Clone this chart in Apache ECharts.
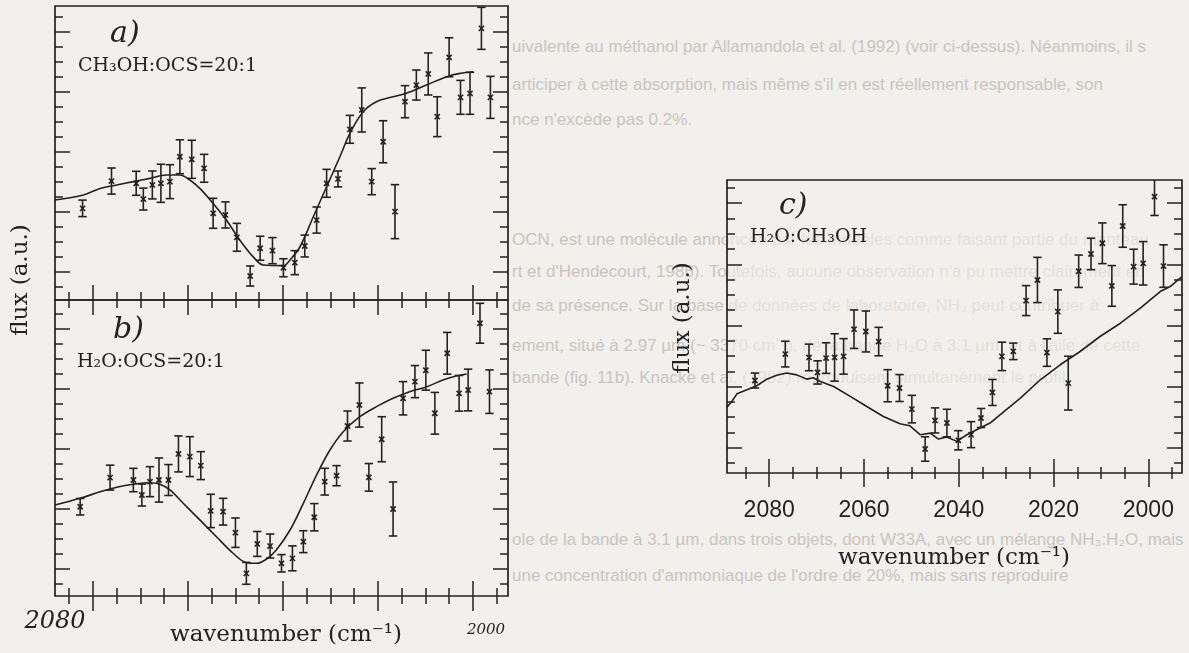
<!DOCTYPE html>
<html>
<head>
<meta charset="utf-8">
<script src="https://cdn.jsdelivr.net/npm/echarts@6/dist/echarts.min.js"></script>
<style>
  html, body { margin: 0; padding: 0; background: #f2f0ed; }
  #page { position: relative; width: 1189px; height: 653px; overflow: hidden; }
  #prose { position: absolute; left: 0; top: 0; width: 1189px; height: 653px; overflow: hidden; z-index: 0; }
  #prose div { position: absolute; left: 512px; white-space: nowrap; height: 20px; line-height: 20px;
               font: 17px "Liberation Sans", Arial, sans-serif; color: #c8c5c0; }
  #veil { position: absolute; left: 728px; top: 181px; width: 453px; height: 291px;
          background: rgba(242, 240, 237, 0.62); z-index: 1; }
  #chart { position: absolute; left: 0; top: 0; width: 1189px; height: 653px; z-index: 2; }
</style>
</head>
<body>
<div id="page">
  <div id="prose"></div>
  <div id="veil"></div>
  <div id="chart"></div>
</div>
<script>
// ---- observed spectrum with error bars, and model fits (flux in arbitrary units) ----
// panel a) CH3OH:OCS = 20:1
const aObsWn   = [2082.2, 2076.1, 2070.9, 2069.4, 2067.5, 2065.7, 2063.8, 2061.7, 2059.2, 2056.6, 2054.7, 2052.1, 2049.7, 2046.9, 2044.8, 2042.2, 2039.9, 2037.5, 2035.4, 2032.9, 2030.8, 2028.4, 2025.9, 2023.4, 2021.3, 2018.9, 2016.4, 2014.3, 2011.9, 2009.4, 2007.5, 2005.0, 2002.6, 2000.6, 1998.2, 1996.3];
const aObsFlux = [6.11, 7.93, 7.78, 6.73, 7.67, 7.78, 7.89, 9.55, 9.38, 8.78, 5.78, 5.67, 4.18, 1.60, 3.45, 3.29, 2.15, 2.49, 3.60, 5.33, 7.78, 8.07, 11.38, 12.67, 7.89, 10.55, 5.89, 13.22, 14.33, 15.07, 12.22, 16.18, 13.51, 13.78, 18.11, 13.51];
const aObsErr  = [0.55, 0.87, 0.80, 0.73, 0.93, 1.27, 1.13, 1.13, 1.27, 0.93, 1.00, 0.87, 0.93, 0.67, 0.80, 0.87, 0.60, 0.80, 0.73, 0.87, 0.93, 0.53, 0.93, 1.47, 0.87, 1.40, 1.80, 1.07, 1.00, 1.40, 1.33, 1.30, 1.13, 1.40, 1.40, 1.40];
const aFitWn   = [2088.0, 2082.0, 2078.5, 2075.0, 2071.5, 2068.0, 2064.5, 2061.7, 2059.6, 2057.5, 2054.7, 2051.9, 2049.1, 2046.3, 2044.1, 2039.9, 2038.5, 2036.4, 2033.6, 2030.8, 2028.0, 2025.9, 2023.1, 2020.3, 2016.8, 2014.0, 2009.8, 2005.5, 2002.7, 1999.9];
const aFitFlux = [6.67, 7.00, 7.44, 7.67, 7.89, 8.11, 8.33, 8.33, 8.00, 7.44, 6.44, 5.33, 4.00, 2.89, 2.33, 2.29, 2.67, 3.55, 5.55, 7.55, 9.55, 11.11, 12.55, 13.22, 13.55, 13.78, 14.33, 14.89, 15.11, 15.22];

// panel b) H2O:OCS = 20:1
const bObsWn   = [2082.7, 2076.4, 2071.5, 2069.7, 2068.0, 2066.1, 2064.1, 2062.0, 2059.6, 2057.3, 2055.2, 2052.6, 2050.0, 2047.7, 2045.4, 2042.7, 2040.3, 2038.0, 2035.7, 2033.4, 2031.2, 2028.7, 2026.4, 2023.9, 2021.9, 2019.2, 2016.8, 2014.7, 2012.2, 2009.9, 2008.0, 2005.4, 2002.9, 2001.0, 1998.5, 1996.5];
const bObsFlux = [5.95, 7.89, 7.73, 6.73, 7.62, 7.73, 7.73, 9.47, 9.29, 8.69, 5.67, 5.62, 4.22, 1.51, 3.47, 3.33, 2.18, 2.51, 3.62, 5.25, 7.62, 8.02, 11.33, 12.73, 7.91, 10.45, 5.80, 13.18, 14.29, 15.05, 12.18, 16.18, 13.51, 13.73, 18.18, 13.62];
const bObsErr  = [0.55, 0.83, 0.78, 0.73, 1.00, 1.47, 1.03, 1.20, 1.33, 0.93, 1.11, 0.89, 0.98, 0.73, 0.83, 0.80, 0.58, 0.83, 0.73, 0.91, 0.89, 0.67, 1.00, 1.47, 0.92, 1.50, 1.80, 1.11, 1.07, 1.33, 1.39, 1.39, 1.19, 1.39, 1.33, 1.45];
const bFitWn   = [2088.0, 2082.7, 2078.5, 2075.0, 2071.5, 2068.0, 2065.9, 2063.8, 2061.0, 2057.5, 2054.0, 2050.5, 2047.7, 2045.6, 2043.5, 2041.4, 2038.5, 2035.7, 2032.9, 2030.1, 2027.3, 2023.8, 2020.3, 2016.8, 2013.3, 2009.7, 2006.3, 2004.1, 2001.3];
const bFitFlux = [6.07, 6.51, 6.95, 7.25, 7.45, 7.55, 7.45, 7.07, 6.18, 5.07, 3.95, 2.85, 2.22, 2.18, 2.45, 3.07, 4.40, 6.18, 8.07, 9.73, 10.95, 11.95, 12.62, 13.18, 13.62, 13.95, 14.40, 14.62, 14.80];

// panel c) H2O:CH3OH
const cObsWn   = [2083.0, 2076.6, 2071.6, 2069.8, 2068.0, 2066.2, 2064.3, 2062.1, 2059.6, 2056.9, 2055.0, 2052.5, 2049.9, 2047.1, 2045.0, 2042.5, 2040.1, 2037.4, 2035.3, 2032.9, 2030.9, 2028.5, 2025.8, 2023.4, 2021.4, 2019.1, 2016.9, 2014.7, 2012.1, 2009.7, 2007.7, 2005.4, 2003.1, 2001.1, 1998.7, 1996.8];
const cObsFlux = [6.05, 7.78, 7.56, 6.58, 7.52, 7.56, 7.63, 9.41, 9.26, 8.60, 5.71, 5.56, 4.18, 1.57, 3.44, 3.27, 2.14, 2.51, 3.60, 5.27, 7.63, 7.96, 11.28, 12.63, 7.88, 10.56, 5.88, 13.20, 14.33, 15.03, 12.24, 16.16, 13.50, 13.72, 18.08, 13.54];
const cObsErr  = [0.49, 0.84, 0.87, 0.76, 1.00, 1.55, 1.16, 1.26, 1.34, 0.93, 1.05, 0.88, 0.90, 0.80, 0.82, 0.90, 0.63, 0.85, 0.62, 0.85, 0.93, 0.54, 0.98, 1.48, 0.90, 1.42, 1.76, 1.06, 1.03, 1.33, 1.33, 1.39, 1.14, 1.42, 1.23, 1.39];
const cFitWn   = [2088.9, 2087.9, 2086.8, 2084.7, 2082.6, 2080.5, 2078.4, 2076.3, 2074.2, 2072.0, 2070.7, 2069.2, 2066.4, 2062.9, 2059.4, 2055.9, 2052.4, 2050.3, 2048.1, 2046.0, 2044.3, 2042.5, 2040.4, 2038.3, 2035.5, 2033.4, 2031.3, 2027.0, 2022.8, 2018.6, 2014.4, 2010.2, 2005.9, 2001.7, 1997.5, 1995.4, 1992.9];
const cFitFlux = [4.31, 4.68, 5.18, 5.44, 5.71, 6.14, 6.40, 6.54, 6.42, 6.14, 6.23, 5.99, 5.66, 5.01, 4.35, 3.70, 3.22, 3.09, 2.50, 2.61, 2.22, 2.35, 2.07, 2.50, 2.94, 3.27, 3.81, 4.90, 6.10, 7.08, 7.95, 8.93, 9.80, 10.78, 11.87, 12.20, 12.85];

// ---- tick positions ----
const wnMajorTicks = [2080, 2060, 2040, 2020, 2000];
const wnMinorTicks = [2085, 2075, 2070, 2065, 2055, 2050, 2045, 2035, 2030, 2025, 2015, 2010, 2005, 1995];
const wnTickLabels = ['2080', '2060', '2040', '2020', '2000'];
const fluxMajorA = [1.87, 5.87, 9.87, 13.87, 17.87];
const fluxMajorB = [1.8, 5.8, 9.8, 13.8, 17.8];
const fluxMajorC = [1.65, 5.65, 9.65, 13.65, 17.65];

// axis extents
const wnExtentAB = [1992.6, 2088.0];
const wnExtentC  = [1992.9, 2088.9];
const fluxMaxA = 19.6, fluxMaxB = 19.73, fluxMaxC = 19.17;

// page text running behind the figure: [line, vertical centre]
const pageLines = [
  ['uivalente au méthanol par Allamandola et al. (1992) (voir ci-dessus). Néanmoins, il s', 47],
  ['articiper à cette absorption, mais même s\'il en est réellement responsable, son', 85],
  ['nce n\'excède pas 0.2%.', 120],
  ['OCN, est une molécule annoncée par les modèles comme faisant partie du manteau', 240],
  ['rt et d\'Hendecourt, 1986). Toutefois, aucune observation n\'a pu mettre clairement en', 272],
  ['de sa présence. Sur la base de données de laboratoire, NH₃ peut contribuer à', 306],
  ['ement, situé à 2.97 µm (~ 3370 cm⁻¹), de la bande H₂O à 3.1 µm, et à l\'aile de cette', 343],
  ['bande (fig. 11b). Knacke et al. (1982) reproduisent simultanément le profil', 378],
  ['ole de la bande à 3.1 µm, dans trois objets, dont W33A, avec un mélange NH₃:H₂O, mais', 540],
  ['une concentration d\'ammoniaque de l\'ordre de 20%, mais sans reproduire', 576]
];

const INK = '#222222';
const SERIF = '"DejaVu Serif", "Liberation Serif", serif';

const prose = document.getElementById('prose');
pageLines.forEach(([t, y]) => {
  const d = document.createElement('div');
  d.textContent = t;
  d.style.top = (y - 10) + 'px';
  prose.appendChild(d);
});

// minor flux ticks: one unit apart, skipping the major ones
function minorsOf(majors, max) {
  const out = [];
  for (let v = majors[0] - 1; v <= max + 1e-9; v += 1) {
    const r = +v.toFixed(3);
    if (r < 0) continue;
    if (!majors.some(m => Math.abs(m - r) < 1e-6)) out.push(r);
  }
  return out;
}

function tickAxis(grid, position, values, length, inside, extent, inverse, extra) {
  return Object.assign({
    type: 'value', gridIndex: grid, position: position,
    min: extent[0], max: extent[1], inverse: inverse,
    axisLine: { show: false }, splitLine: { show: false },
    axisLabel: { show: false }, axisPointer: { show: false },
    axisTick: { show: true, inside: inside, length: length, customValues: values,
                lineStyle: { color: INK, width: 1.5 } }
  }, extra || {});
}

const xAxes = [
  // panel a
  tickAxis(0, 'bottom', wnMajorTicks, 15, true, wnExtentAB, true),
  tickAxis(0, 'bottom', wnMinorTicks, 8, true, wnExtentAB, true),
  tickAxis(0, 'top', wnMajorTicks, 14, true, wnExtentAB, true),
  tickAxis(0, 'top', wnMinorTicks, 7, true, wnExtentAB, true),
  // panel b
  tickAxis(1, 'bottom', wnMajorTicks, 15, true, wnExtentAB, true),
  tickAxis(1, 'bottom', wnMinorTicks, 8, true, wnExtentAB, true),
  tickAxis(1, 'bottom', wnMajorTicks, 15, false, wnExtentAB, true),
  tickAxis(1, 'bottom', wnMinorTicks, 8, false, wnExtentAB, true),
  tickAxis(1, 'top', wnMajorTicks, 15, true, wnExtentAB, true),
  tickAxis(1, 'top', wnMinorTicks, 8, true, wnExtentAB, true),
  // panel c
  tickAxis(2, 'bottom', wnMajorTicks, 14, true, wnExtentC, true, {
    axisLabel: { show: true, customValues: wnMajorTicks, margin: 26,
      formatter: v => wnTickLabels[wnMajorTicks.indexOf(v)] || '',
      fontFamily: '"Liberation Sans", Arial, sans-serif', fontSize: 23, color: INK }
  }),
  tickAxis(2, 'bottom', wnMinorTicks, 6, true, wnExtentC, true),
  tickAxis(2, 'top', wnMajorTicks, 14, true, wnExtentC, true),
  tickAxis(2, 'top', wnMinorTicks, 6, true, wnExtentC, true)
];

function fluxAxes(grid, majors, max) {
  const minors = minorsOf(majors, max);
  const ext = [0, max];
  return [
    tickAxis(grid, 'left', majors, 15, true, ext, false),
    tickAxis(grid, 'left', minors, 8, true, ext, false),
    tickAxis(grid, 'right', majors, 15, true, ext, false),
    tickAxis(grid, 'right', minors, 8, true, ext, false)
  ];
}
const yAxes = [].concat(
  fluxAxes(0, fluxMajorA, fluxMaxA),
  fluxAxes(1, fluxMajorB, fluxMaxB),
  fluxAxes(2, fluxMajorC, fluxMaxC)
);

function zip(xs, ys) { return xs.map((x, i) => [x, ys[i]]); }

function errorBars(xi, yi, wn, flux, err) {
  return {
    type: 'custom', xAxisIndex: xi, yAxisIndex: yi, clip: true, silent: true, z: 3,
    data: wn.map((w, i) => [w, flux[i], err[i]]),
    encode: { x: 0, y: 1 },
    renderItem: function (params, api) {
      const w = api.value(0), f = api.value(1), e = api.value(2);
      const c = api.coord([w, f]);
      const hi = api.coord([w, f + e]);
      const lo = api.coord([w, f - e]);
      const cap = 4.2, m = 2.6;
      const st = { stroke: INK, lineWidth: 1.6 };
      return {
        type: 'group',
        children: [
          { type: 'line', shape: { x1: c[0], y1: hi[1], x2: c[0], y2: lo[1] }, style: st },
          { type: 'line', shape: { x1: c[0] - cap, y1: hi[1], x2: c[0] + cap, y2: hi[1] }, style: st },
          { type: 'line', shape: { x1: c[0] - cap, y1: lo[1], x2: c[0] + cap, y2: lo[1] }, style: st },
          { type: 'line', shape: { x1: c[0] - m, y1: c[1] - m, x2: c[0] + m, y2: c[1] + m }, style: st },
          { type: 'line', shape: { x1: c[0] - m, y1: c[1] + m, x2: c[0] + m, y2: c[1] - m }, style: st }
        ]
      };
    }
  };
}

function fitLine(xi, yi, wn, flux, smooth) {
  return {
    type: 'line', xAxisIndex: xi, yAxisIndex: yi, data: zip(wn, flux),
    showSymbol: false, symbol: 'none', smooth: smooth, silent: true, clip: true, z: 2,
    lineStyle: { color: INK, width: 1.6 }
  };
}

function label(text, x, y, font, opts) {
  return Object.assign({
    type: 'text', x: x, y: y, z: 10, silent: true,
    style: Object.assign({ text: text, font: font, fill: INK,
      textAlign: 'left', textVerticalAlign: 'middle', align: 'left', verticalAlign: 'middle' }, (opts && opts.style) || {})
  }, (opts && opts.el) || {});
}
const centered = { textAlign: 'center', align: 'center' };

const graphics = [
  label('a)', 110, 34, 'italic 30px ' + SERIF),
  label('CH₃OH:OCS=20:1', 78, 66, '19px ' + SERIF),
  label('b)', 113, 330, 'italic 30px ' + SERIF),
  label('H₂O:OCS=20:1', 77, 362, '19px ' + SERIF),
  label('c)', 779, 206, 'italic 30px ' + SERIF),
  label('H₂O:CH₃OH', 750, 237, '19px ' + SERIF),
  label('wavenumber (cm⁻¹)', 286, 635, '23px ' + SERIF, { style: centered }),
  label('wavenumber (cm⁻¹)', 954, 558, '23px ' + SERIF, { style: centered }),
  label('2080', 55, 622, 'italic 24px ' + SERIF, { style: centered }),
  label('2000', 486, 630, 'italic 15px ' + SERIF, { style: centered }),
  label('flux (a.u.)', 21, 280, '23px ' + SERIF, { style: centered, el: { rotation: Math.PI / 2 } }),
  label('flux (a.u.)', 683, 318, '23px ' + SERIF, { style: centered, el: { rotation: Math.PI / 2 } })
];

const frame = { show: true, borderColor: INK, borderWidth: 1.7, backgroundColor: 'transparent' };
const option = {
  backgroundColor: 'transparent',
  animation: false,
  grid: [
    Object.assign({ left: 55, top: 6, width: 453, height: 294 }, frame),
    Object.assign({ left: 55, top: 300, width: 453, height: 296 }, frame),
    Object.assign({ left: 727, top: 180, width: 455, height: 293 }, frame)
  ],
  xAxis: xAxes,
  yAxis: yAxes,
  graphic: { elements: graphics },
  series: [
    fitLine(0, 0, aFitWn, aFitFlux, 0.35),
    errorBars(0, 0, aObsWn, aObsFlux, aObsErr),
    fitLine(4, 4, bFitWn, bFitFlux, 0.35),
    errorBars(4, 4, bObsWn, bObsFlux, bObsErr),
    fitLine(10, 8, cFitWn, cFitFlux, false),
    errorBars(10, 8, cObsWn, cObsFlux, cObsErr)
  ]
};

const chart = echarts.init(document.getElementById('chart'), null, { renderer: 'canvas' });
chart.setOption(option);
</script>
</body>
</html>
